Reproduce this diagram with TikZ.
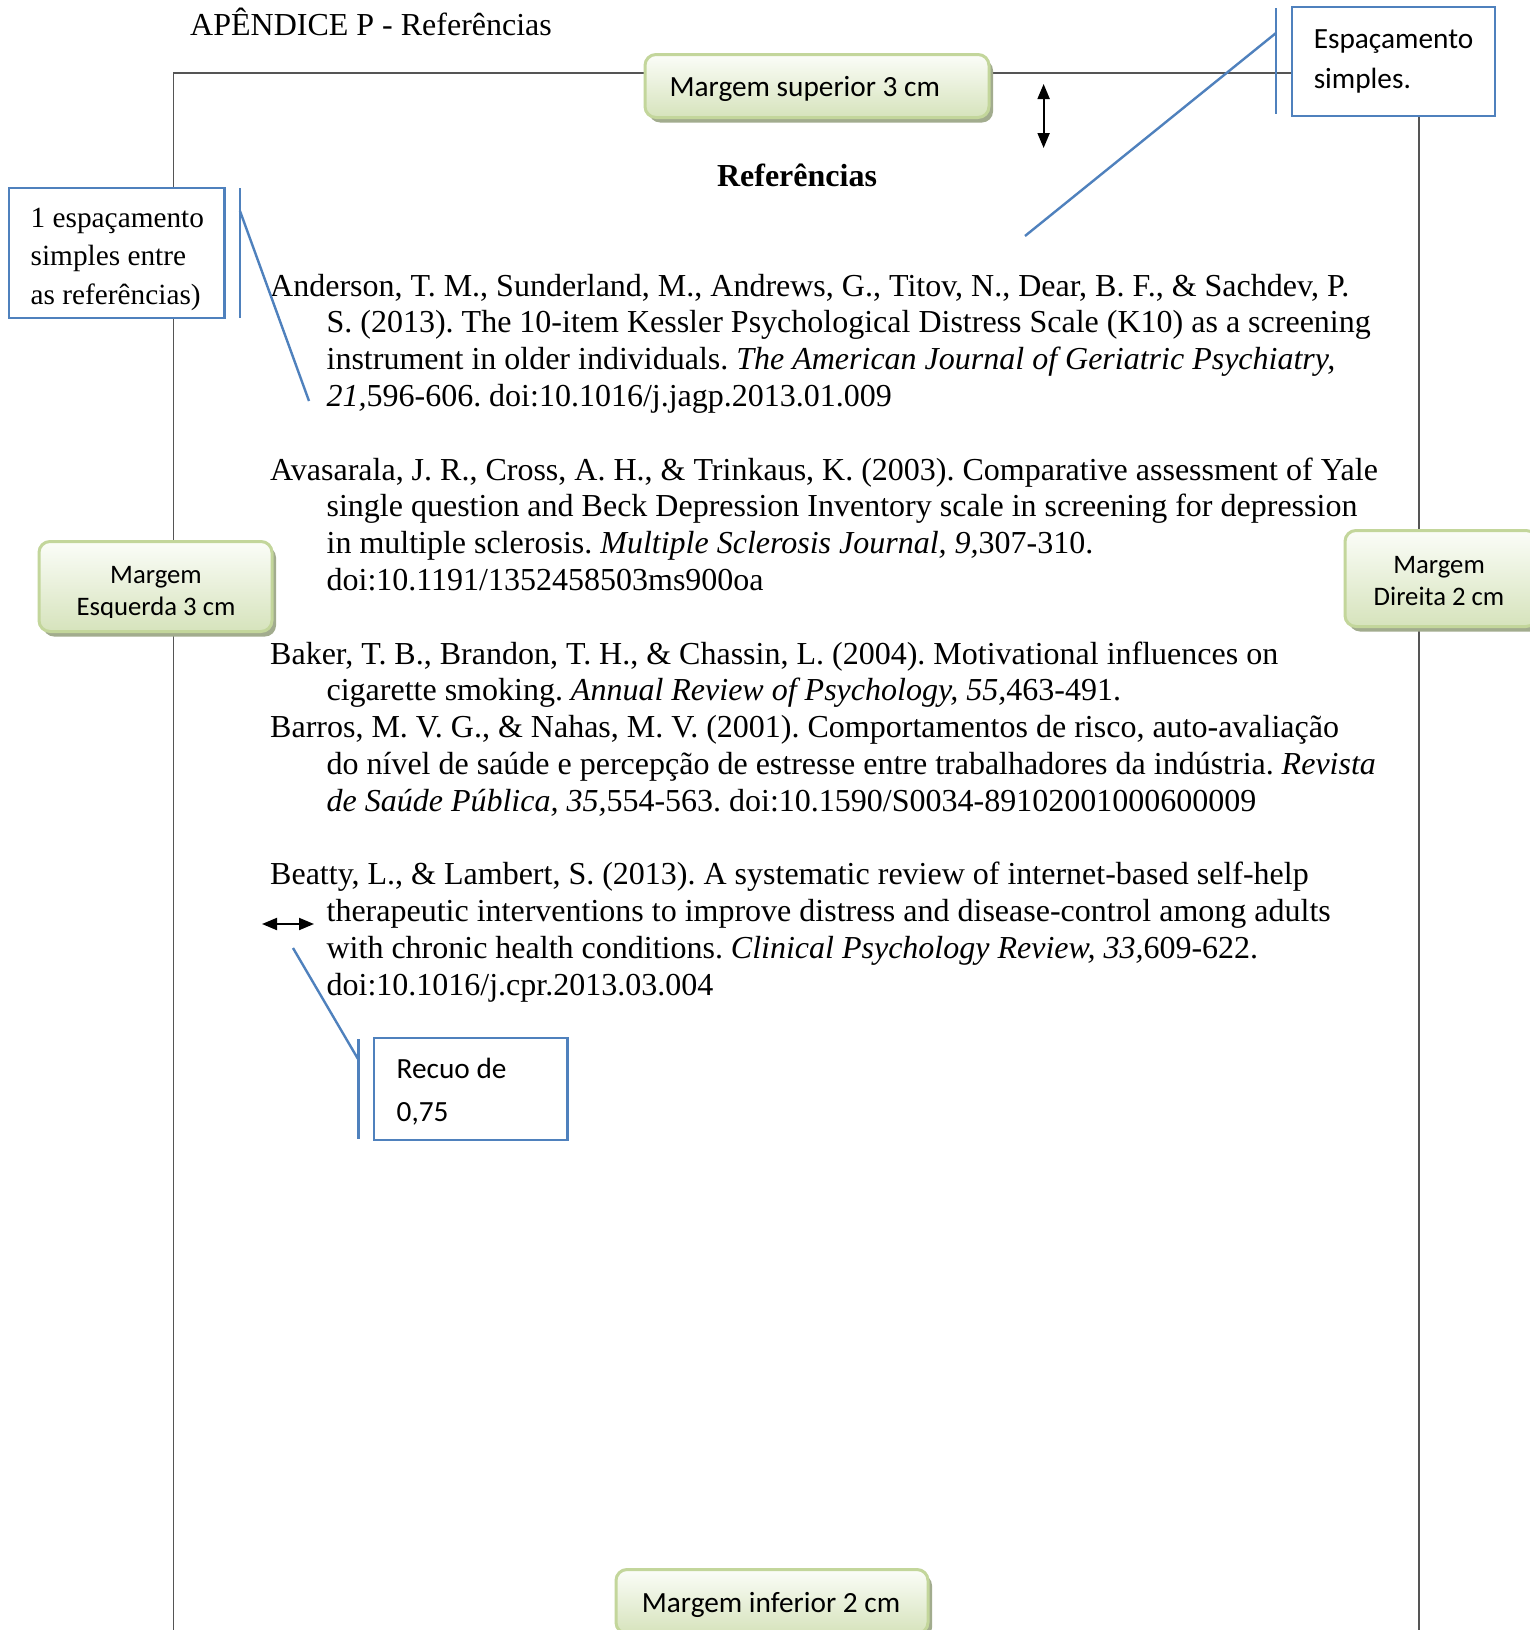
\documentclass[tikz,border=0pt]{standalone}
\usepackage{fontspec}
\setmainfont{Liberation Serif}
\newfontfamily\calfont{Carlito}
\usetikzlibrary{shadows,arrows.meta}
\definecolor{wblue}{RGB}{79,129,189}
\definecolor{gborder}{RGB}{195,214,155}
\definecolor{gtop}{RGB}{251,253,248}
\definecolor{gbot}{RGB}{214,227,188}
\definecolor{gshadow}{RGB}{162,172,142}
\definecolor{pageline}{RGB}{85,85,85}
\begin{document}
\frenchspacing
\begin{tikzpicture}[x=1pt,y=-1pt,
  pagestroke/.style={draw=pageline,line width=1.6pt},
  bodyfont/.style={font=\fontsize{32}{36.8}\selectfont},
  reftext/.style={anchor=base west,inner sep=0pt,bodyfont},
  greenbox/.style={rounded corners=11pt,draw=gborder,line width=3pt,
    top color=gtop,bottom color=gbot,
    drop shadow={shadow xshift=4pt,shadow yshift=-5pt,fill=gshadow,opacity=1},
    inner sep=0pt},
  greentext/.style={anchor=base,inner sep=0pt,font=\calfont\fontsize{26.7}{32}\selectfont},
  bluebox/.style={draw=wblue,line width=2.6pt,fill=white,align=left,inner sep=0pt},
  bluetext/.style={align=left,inner sep=0pt},
  blueline/.style={draw=wblue,line width=2.4pt},
  dblarrow/.style={line width=2pt,{Triangle[length=15pt,width=12pt]}-{Triangle[length=15pt,width=12pt]}}
]
\clip (0,0) rectangle (1530,1630);
\fill[white] (0,0) rectangle (1530,1630);

% page frame
\coordinate (pBL) at (173.6,1700);
\coordinate (pTL) at (173.6,72.8);
\coordinate (pTR) at (1419,72.8);
\coordinate (pBR) at (1419,1700);
\draw[pagestroke] (pBL) -- (pTL) -- (pTR) -- (pBR);

% title
\node[anchor=base west,inner sep=0pt,bodyfont] (title) at (190,35.5) {APÊNDICE P - Referências};
\node[anchor=base,inner sep=0pt,font=\bfseries\fontsize{32}{36.8}\selectfont] (heading) at (797,186) {Referências};

% references
\node[reftext] (a1) at (270,296.0) {Anderson, T. M., Sunderland, M., Andrews, G., Titov, N., Dear, B. F., \& Sachdev, P.};
\node[reftext] (a2) at (326.4,332.8) {S. (2013). The 10-item Kessler Psychological Distress Scale (K10) as a screening};
\node[reftext] (a3) at (326.4,369.6) {instrument in older individuals. \textit{The American Journal of Geriatric Psychiatry,}};
\node[reftext] (a4) at (326.4,406.4) {\textit{21,}596-606. doi:10.1016/j.jagp.2013.01.009};

\node[reftext] (b1) at (270,480.0) {Avasarala, J. R., Cross, A. H., \& Trinkaus, K. (2003). Comparative assessment of Yale};
\node[reftext] (b2) at (326.4,516.8) {single question and Beck Depression Inventory scale in screening for depression};
\node[reftext] (b3) at (326.4,553.6) {in multiple sclerosis. \textit{Multiple Sclerosis Journal, 9,}307-310.};
\node[reftext] (b4) at (326.4,590.4) {doi:10.1191/1352458503ms900oa};

\node[reftext] (c1) at (270,664.0) {Baker, T. B., Brandon, T. H., \& Chassin, L. (2004). Motivational influences on};
\node[reftext] (c2) at (326.4,700.8) {cigarette smoking. \textit{Annual Review of Psychology, 55,}463-491.};

\node[reftext] (d1) at (270,737.6) {Barros, M. V. G., \& Nahas, M. V. (2001). Comportamentos de risco, auto-avaliação};
\node[reftext] (d2) at (326.4,774.4) {do nível de saúde e percepção de estresse entre trabalhadores da indústria. \textit{Revista}};
\node[reftext] (d3) at (326.4,811.2) {\textit{de Saúde Pública, 35,}554-563. doi:10.1590/S0034-89102001000600009};

\node[reftext] (e1) at (270,884.8) {Beatty, L., \& Lambert, S. (2013). A systematic review of internet-based self-help};
\node[reftext] (e2) at (326.4,921.6) {therapeutic interventions to improve distress and disease-control among adults};
\node[reftext] (e3) at (326.4,958.4) {with chronic health conditions. \textit{Clinical Psychology Review, 33,}609-622.};
\node[reftext] (e4) at (326.4,995.2) {doi:10.1016/j.cpr.2013.03.004};

% green boxes
\node[greenbox,minimum width=344pt,minimum height=63pt] (gtopbox) at (817,86) {};
\node[anchor=base west,inner sep=0pt,font=\calfont\fontsize{29.3}{33}\selectfont] (gtoptext) at (669.4,96) {Margem superior 3 cm};

\node[greenbox,minimum width=233pt,minimum height=90pt] (gleftbox) at (155.5,586.5) {};
\begin{scope}
  \clip (40,543) rectangle (272,617.2);
  \node[greentext] (glt1) at (156,583) {Margem};
  \node[greentext] (glt2) at (156,615) {Esquerda 3 cm};
\end{scope}

\node[greenbox,minimum width=192pt,minimum height=96pt] (grightbox) at (1441,578.5) {};
\node[greentext] (grt1) at (1439,573) {Margem};
\node[greentext] (grt2) at (1439,605) {Direita 2 cm};

\node[greenbox,minimum width=312pt,minimum height=64pt] (gbotbox) at (772,1601.5) {};
\node[anchor=base,inner sep=0pt,font=\calfont\fontsize{29.3}{33}\selectfont] (gbt) at (771,1612) {Margem inferior 2 cm};

% arrows
\coordinate (vaT) at (1043.6,84);
\coordinate (vaB) at (1043.6,148);
\draw[dblarrow] (vaT) -- (vaB);
\coordinate (haL) at (262,924);
\coordinate (haR) at (314,924);
\draw[dblarrow] (haL) -- (haR);

% blue callouts
\node[bluebox,minimum width=203pt,minimum height=109pt,
  font=\calfont\fontsize{29.3}{40.5}\selectfont] (esp) at (1393.5,61.5) {Espaçamento\\simples.\hspace*{40pt}};
\coordinate (espbT) at (1276,8);
\coordinate (espbB) at (1276,114);
\coordinate (espK) at (1276,33);
\coordinate (espE) at (1025,236);
\draw[blueline] (espbT) -- (espbB);
\draw[blueline] (espK) -- (espE);

\node[bluebox,minimum width=215.5pt,minimum height=130pt] (sp) at (116.75,253) {};
\node[bluetext,anchor=north west,font=\fontsize{29.3}{38.9}\selectfont] (sptext) at (30.5,207.5) {1 espaçamento\\simples entre\\as referências)};
\coordinate (spbT) at (240,188);
\coordinate (spbB) at (240,318);
\coordinate (spK) at (240,211);
\coordinate (spE) at (309,401);
\draw[blueline] (spbT) -- (spbB);
\draw[blueline] (spK) -- (spE);

\node[bluebox,minimum width=193.5pt,minimum height=102pt] (rec) at (470.75,1089) {};
\node[bluetext,anchor=north west,font=\calfont\fontsize{29.3}{42.5}\selectfont] (rectext) at (396.5,1058) {Recuo de\\0,75};
\coordinate (recbT) at (358.6,1039);
\coordinate (recbB) at (358.6,1139);
\coordinate (recK) at (358.6,1060);
\coordinate (recE) at (293,948);
\draw[blueline] (recbT) -- (recbB);
\draw[blueline] (recK) -- (recE);
\end{tikzpicture}
\end{document}
